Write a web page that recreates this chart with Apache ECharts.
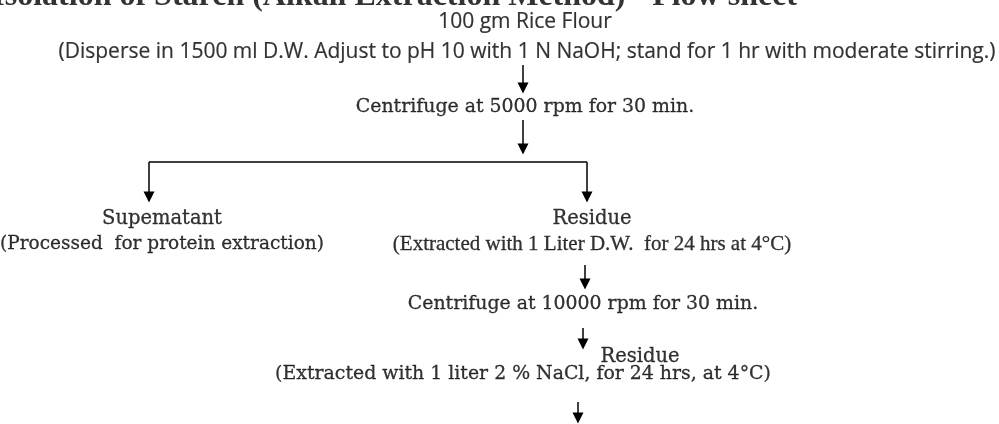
<!DOCTYPE html>
<html>
<head>
<meta charset="utf-8">
<script src="https://cdn.jsdelivr.net/npm/echarts@6/dist/echarts.min.js"></script>
<style>html,body{margin:0;padding:0;background:#fff}#c{width:999px;height:424px}</style>
</head>
<body>
<div id="c"></div>
<script>
// ---- flow sheet content (data) ----
const titleText = ['Isolation of Starch (Alkali Extraction Method) - Flow sheet'];
const titleX = [797];
const titleY = [-3.5];

const sansSteps = [
  '100 gm Rice Flour',
  '(Disperse in 1500 ml D.W. Adjust to pH 10 with 1 N NaOH; stand for 1 hr with moderate stirring.)'
];
const sansX = [525, 527];
const sansY = [22, 52];

const serifSteps = [
  'Centrifuge at 5000 rpm for 30 min.',
  'Centrifuge at 10000 rpm for 30 min.',
  '(Extracted with 1 liter 2 % NaCl, for 24 hrs, at 4\u00B0C)'
];
const serifX = [525, 583, 523];
const serifY = [107, 304, 374];

const productSteps = ['Supematant', 'Residue', 'Residue'];
const productX = [162, 592, 640];
const productY = [219, 219, 357];

const noteSteps = ['(Processed  for protein extraction)'];
const noteX = [162];
const noteY = [244];

const narrowSteps = ['(Extracted with 1 Liter D.W.  for 24 hrs at 4\u00B0C)'];
const narrowX = [592];
const narrowY = [244];

// arrows: start and end points
const arrowFrom = [[523, 65], [523, 120], [149, 162], [587, 162], [585, 265], [583, 328], [578, 402]];
const arrowTo   = [[523, 88], [523, 149], [149, 197], [587, 197], [585, 284], [583, 344], [578, 418]];
const branchLine = [[149, 162], [587, 162]];

// ---- chart ----
const chart = echarts.init(document.getElementById('c'), null, {renderer: 'canvas'});

function textSeries(names, xs, ys, font, size, weight, align, border) {
  return {
    type: 'scatter',
    symbolSize: 0,
    silent: true,
    clip: false,
    data: names.map((n, i) => ({name: n, value: [xs[i], ys[i]]})),
    label: {
      show: true,
      position: 'inside',
      formatter: '{b}',
      fontFamily: font,
      fontSize: size,
      fontWeight: weight,
      color: '#000',
      textBorderColor: '#000',
      textBorderWidth: border || 0,
      align: align || 'center',
      verticalAlign: 'middle'
    }
  };
}

chart.setOption({
  animation: false,
  grid: {left: 0, right: 0, top: 0, bottom: 0},
  xAxis: {type: 'value', min: 0, max: 999, show: false},
  yAxis: {type: 'value', min: 0, max: 424, inverse: true, show: false},
  series: [
    textSeries(titleText, titleX, titleY, 'Liberation Serif', 32, 'bold', 'right'),
    textSeries(sansSteps, sansX, sansY, 'Open Sans', 21, 'normal', 'center', 0.2),
    textSeries(serifSteps, serifX, serifY, 'DejaVu Serif', 18.9, 'normal', 'center', 0.3),
    textSeries(productSteps, productX, productY, 'DejaVu Serif', 19.5, 'normal', 'center', 0.3),
    textSeries(noteSteps, noteX, noteY, 'DejaVu Serif', 18.5, 'normal', 'center', 0.3),
    textSeries(narrowSteps, narrowX, narrowY, 'Liberation Serif', 21, 'normal', 'center', 0.3),
    {
      type: 'lines',
      coordinateSystem: 'cartesian2d',
      silent: true,
      symbol: ['none', 'triangle'],
      symbolSize: 11,
      lineStyle: {color: '#000', width: 1.5, opacity: 1},
      data: arrowFrom.map((p, i) => ({coords: [p, arrowTo[i]]}))
    },
    {
      type: 'lines',
      coordinateSystem: 'cartesian2d',
      silent: true,
      symbol: ['none', 'none'],
      lineStyle: {color: '#000', width: 1.5, opacity: 1},
      data: [{coords: branchLine}]
    }
  ]
});
</script>
</body>
</html>
